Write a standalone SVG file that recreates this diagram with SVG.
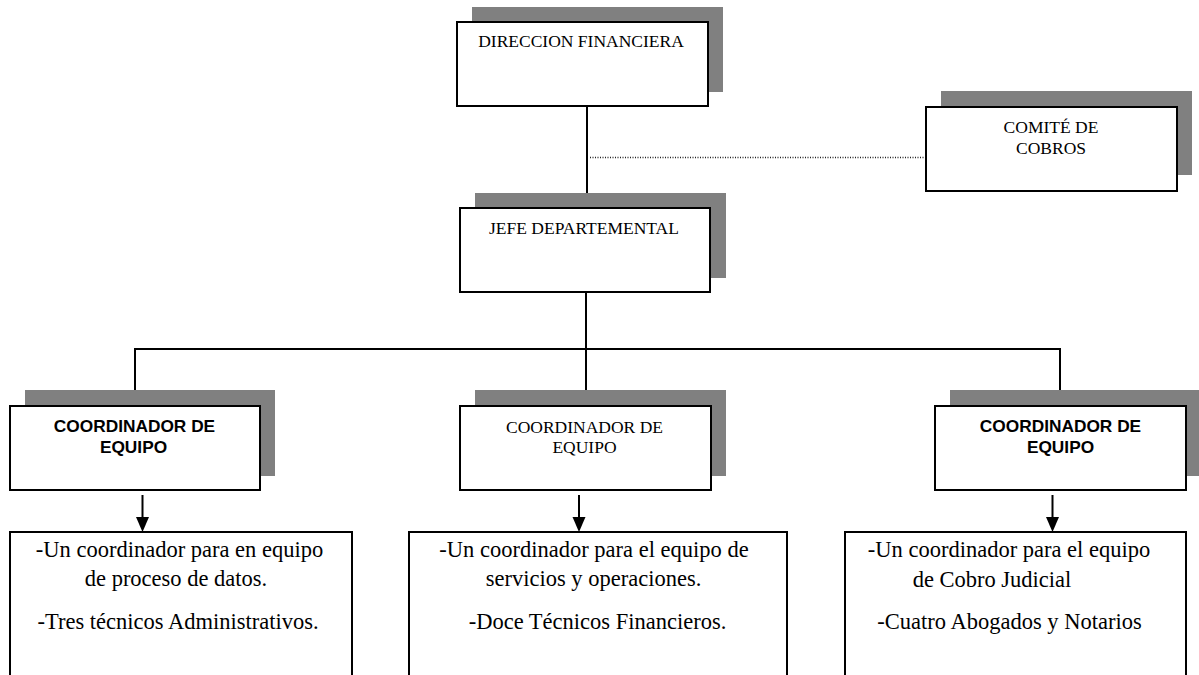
<svg xmlns="http://www.w3.org/2000/svg" width="1199" height="675" viewBox="0 0 1199 675">
  <style>
    .shadow { fill: #808080; }
    .box { fill: #ffffff; stroke: #000000; stroke-width: 2; }
    .line { stroke: #000000; stroke-width: 2; fill: none; }
    .dotted { stroke: #222222; stroke-width: 1.3; stroke-dasharray: 1 1.5; fill: none; }
    .serif { font-family: "Liberation Serif", "Times New Roman", serif; font-size: 17.5px; fill: #000; text-anchor: middle; }
    .bold { font-family: "Liberation Sans", Arial, sans-serif; font-size: 17.3px; font-weight: bold; fill: #000; text-anchor: middle; }
    .body { font-family: "Liberation Serif", "Times New Roman", serif; font-size: 22.5px; fill: #000; text-anchor: middle; }
  </style>
  <rect width="1199" height="675" fill="#ffffff"/>

  <!-- reporting lines and arrows -->
  <g id="connectors">
    <line class="line" x1="587" y1="106" x2="587" y2="208"/>
    <line class="dotted" x1="590" y1="157.5" x2="926" y2="157.5"/>
    <line class="line" x1="586" y1="292" x2="586" y2="405"/>
    <line class="line" x1="134" y1="349" x2="1061" y2="349"/>
    <line class="line" x1="135" y1="348" x2="135" y2="405"/>
    <line class="line" x1="1060" y1="348" x2="1060" y2="405"/>
    <line class="line" x1="142.5" y1="495" x2="142.5" y2="518"/>
    <path d="M136,517 L149,517 L142.5,532 Z" fill="#000"/>
    <line class="line" x1="579" y1="495" x2="579" y2="518"/>
    <path d="M572.5,517 L585.5,517 L579,532 Z" fill="#000"/>
    <line class="line" x1="1052.5" y1="495" x2="1052.5" y2="518"/>
    <path d="M1046,517 L1059,517 L1052.5,532 Z" fill="#000"/>
  </g>

  <!-- top management -->
  <g id="direccion-financiera">
    <rect class="shadow" x="472" y="7" width="251" height="85"/>
    <rect class="box" x="457" y="22" width="251" height="84"/>
    <text class="serif" x="581" y="47">DIRECCION FINANCIERA</text>
  </g>

  <g id="comite-de-cobros">
    <rect class="shadow" x="941" y="91" width="251" height="84"/>
    <rect class="box" x="926" y="107" width="251" height="84"/>
    <text class="serif" x="1051" y="133">COMITÉ DE</text>
    <text class="serif" x="1051" y="154">COBROS</text>
  </g>

  <g id="jefe-departamental">
    <rect class="shadow" x="475" y="193" width="251" height="85"/>
    <rect class="box" x="460" y="208" width="250" height="84"/>
    <text class="serif" x="584" y="234">JEFE DEPARTEMENTAL</text>
  </g>

  <!-- team coordinators -->
  <g id="coordinador-1">
    <rect class="shadow" x="25" y="390" width="250" height="86"/>
    <rect class="box" x="10" y="406" width="250" height="84"/>
    <text class="bold" x="134.5" y="432">COORDINADOR DE</text>
    <text class="bold" x="133.5" y="453">EQUIPO</text>
  </g>

  <g id="coordinador-2">
    <rect class="shadow" x="475" y="390" width="251" height="86"/>
    <rect class="box" x="460" y="406" width="251" height="84"/>
    <text class="serif" x="584.5" y="432.5">COORDINADOR DE</text>
    <text class="serif" x="584.5" y="452.5">EQUIPO</text>
  </g>

  <g id="coordinador-3">
    <rect class="shadow" x="950" y="390" width="260" height="86"/>
    <rect class="box" x="935" y="406" width="251" height="84"/>
    <text class="bold" x="1060.5" y="432">COORDINADOR DE</text>
    <text class="bold" x="1060.5" y="452.5">EQUIPO</text>
  </g>

  <!-- team composition -->
  <g id="equipo-datos">
    <rect class="box" x="10" y="532" width="342" height="170"/>
    <text class="body" x="179.5" y="557">-Un coordinador para en equipo</text>
    <text class="body" x="176" y="586">de proceso de datos.</text>
    <text class="body" x="178" y="628.5">-Tres técnicos Administrativos.</text>
  </g>

  <g id="equipo-servicios">
    <rect class="box" x="409" y="532" width="378" height="170"/>
    <text class="body" x="594" y="557">-Un coordinador para el equipo de</text>
    <text class="body" x="593.5" y="585.5">servicios y operaciones.</text>
    <text class="body" x="597.5" y="629">-Doce Técnicos Financieros.</text>
  </g>

  <g id="equipo-judicial">
    <rect class="box" x="845" y="532" width="341" height="170"/>
    <text class="body" x="1009" y="557">-Un coordinador para el equipo</text>
    <text class="body" x="992" y="586.5">de Cobro Judicial</text>
    <text class="body" x="1009.5" y="629">-Cuatro Abogados y Notarios</text>
  </g>
</svg>
